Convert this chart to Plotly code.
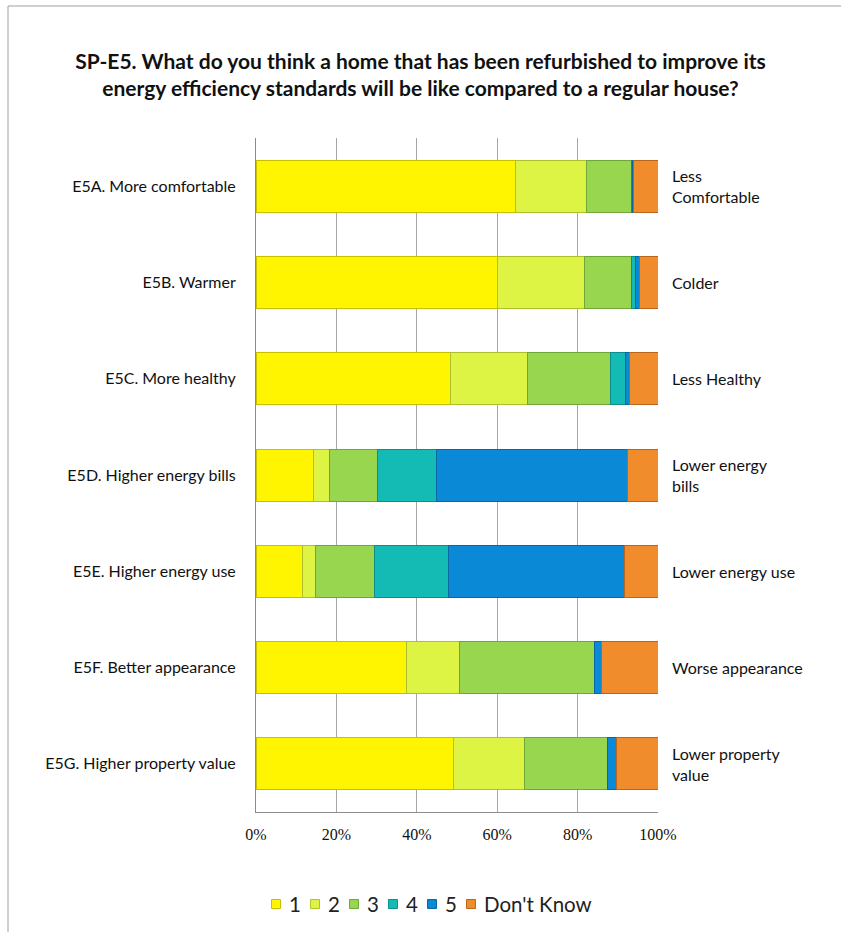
import plotly.graph_objects as go

# Survey items (left-hand statements) and their opposite poles (right-hand labels)
items = [
    "E5A. More comfortable",
    "E5B. Warmer",
    "E5C. More healthy",
    "E5D. Higher energy bills",
    "E5E. Higher energy use",
    "E5F. Better appearance",
    "E5G. Higher property value",
]
opposites = [
    "Less<br>Comfortable",
    "Colder",
    "Less Healthy",
    "Lower energy<br>bills",
    "Lower energy use",
    "Worse appearance",
    "Lower property<br>value",
]

# Share of responses (%) on the 1-5 scale plus "Don't Know"
resp_1 = [64.5, 60.0, 48.5, 14.4, 11.6, 37.5, 49.1]
resp_2 = [17.8, 21.8, 19.1, 3.8, 3.1, 13.1, 17.8]
resp_3 = [11.0, 11.5, 20.5, 12.0, 14.9, 33.7, 20.6]
resp_4 = [0.3, 1.1, 3.9, 14.6, 18.4, 0.0, 0.0]
resp_5 = [0.4, 1.1, 0.8, 47.7, 43.7, 1.7, 2.2]
resp_dk = [6.0, 4.5, 7.2, 7.5, 8.3, 14.0, 10.3]

series_names = ["1", "2", "3", "4", "5", "Don't Know"]
series_values = [resp_1, resp_2, resp_3, resp_4, resp_5, resp_dk]
fill_colors = ["#FFF500", "#DDF444", "#99D64F", "#14BBB5", "#0A8AD6", "#F08C2C"]
edge_colors = ["#C8C000", "#AEC02E", "#6FA836", "#0E8E8A", "#0868A3", "#B8661C"]

W, H = 841, 932
px_l, px_r, px_t, px_b = 256, 658, 138, 812
w_plot, h_plot = px_r - px_l, px_b - px_t


def paper_x(px):
    return (px - px_l) / w_plot


def paper_y(py):
    return (px_b - py) / h_plot


fig = go.Figure()
for name, vals, fc, ec in zip(series_names, series_values, fill_colors, edge_colors):
    fig.add_trace(go.Bar(
        name=name,
        y=items,
        x=vals,
        orientation="h",
        marker=dict(color=fc, line=dict(color=ec, width=1)),
        hovertemplate="%{y}: %{x:.1f}%<extra>" + name + "</extra>",
        showlegend=False,
    ))

# Labels for the opposite pole on the right of each bar
for item, opp in zip(items, opposites):
    fig.add_annotation(
        x=1, xref="paper", y=item, yref="y",
        text=opp, showarrow=False,
        xanchor="left", yanchor="middle", align="left", xshift=12,
        font=dict(family="Lato", size=16, color="#111111"),
    )

# Compact legend row: small squares followed by the series name
leg_y = 904
leg_sq = 9
leg_start, leg_step = 276, 39
for i, (name, fc, ec) in enumerate(zip(series_names, fill_colors, edge_colors)):
    cx = leg_start + leg_step * i
    fig.add_shape(
        type="rect", xref="paper", yref="paper",
        x0=paper_x(cx - leg_sq / 2), x1=paper_x(cx + leg_sq / 2),
        y0=paper_y(leg_y + leg_sq / 2), y1=paper_y(leg_y - leg_sq / 2),
        fillcolor=fc, line=dict(color=ec, width=1),
    )
    fig.add_annotation(
        x=paper_x(cx + 11), xref="paper", y=paper_y(leg_y), yref="paper",
        text=name, showarrow=False, xanchor="left", yanchor="middle",
        font=dict(family="Lato", size=20.5, color="#222222"),
    )

# Outer chart frame
fig.add_shape(
    type="rect", xref="paper", yref="paper",
    x0=paper_x(8), x1=paper_x(1000),
    y0=paper_y(1000), y1=paper_y(6),
    line=dict(color="#A0A0A0", width=1), fillcolor="rgba(0,0,0,0)",
    layer="below",
)

fig.update_layout(
    width=W, height=H,
    margin=dict(l=px_l, r=W - px_r, t=px_t, b=H - px_b),
    paper_bgcolor="white", plot_bgcolor="white",
    barmode="stack", bargap=0.46,
    title=dict(
        text="SP-E5. What do you think a home that has been refurbished to improve its<br>"
             "energy efficiency standards will be like compared to a regular house?",
        x=0.5, xref="container", xanchor="center",
        y=1 - 69 / H, yref="container", yanchor="middle",
        font=dict(family="Lato", size=21, color="#111111", weight="bold"),
    ),
    xaxis=dict(
        range=[0, 100], tickvals=[0, 20, 40, 60, 80, 100],
        ticktext=["0%", "20%", "40%", "60%", "80%", "100%"],
        showgrid=True, gridcolor="#A6A6A6", gridwidth=1,
        showline=True, linecolor="#8C8C8C", linewidth=1,
        zeroline=False, ticks="", ticklabelstandoff=8,
        tickfont=dict(family="Liberation Serif", size=16, color="#111111"),
        fixedrange=True,
    ),
    yaxis=dict(
        autorange="reversed",
        showline=True, linecolor="#8C8C8C", linewidth=1,
        showgrid=False, ticks="", ticklabelstandoff=16,
        tickfont=dict(family="Lato", size=16, color="#111111"),
        fixedrange=True,
    ),
    showlegend=False,
)

fig.write_html("out.html")
